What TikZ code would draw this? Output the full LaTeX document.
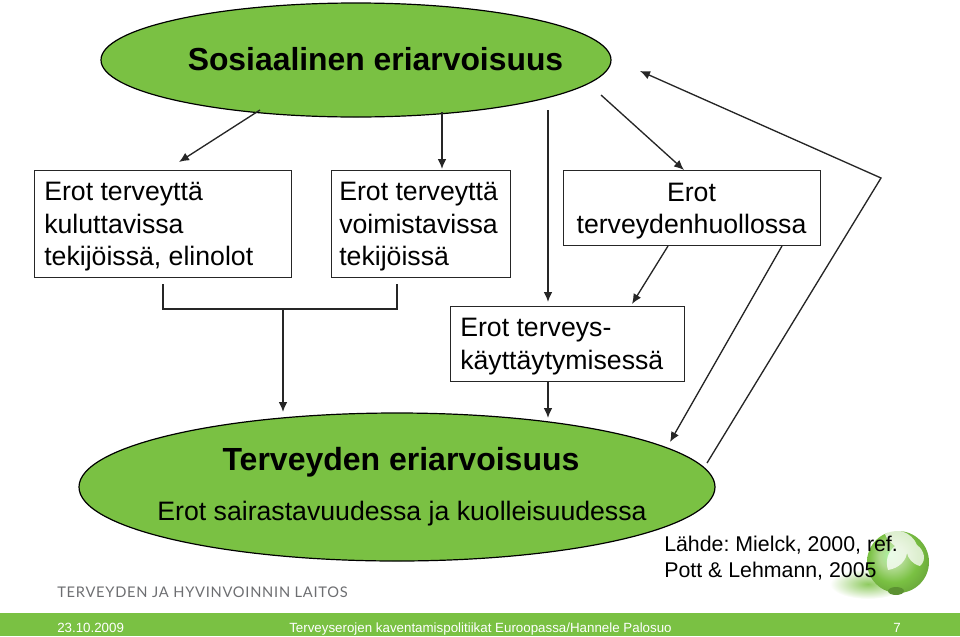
\documentclass[tikz,border=0pt]{standalone}
\usepackage{fontspec}
\setmainfont{Liberation Sans}
\newfontfamily\logofont[LetterSpace=5]{Lato}
\usetikzlibrary{calc,arrows,arrows.meta,shadings}
\definecolor{thlgreen}{HTML}{7AC143}
\definecolor{thlgray}{HTML}{6D6E71}
\pgfdeclareradialshading{ballshade}{\pgfpoint{-6bp}{6bp}}{%
  color(0bp)=(green!30!white!85!thlgreen);color(10bp)=(thlgreen!60!white);
  color(20bp)=(thlgreen);color(27bp)=(thlgreen!90!black);color(50bp)=(thlgreen!75!black)}
\tikzset{
  box/.style={draw=black!85,line width=0.7pt,inner sep=0pt},
  blob/.style={draw=black,fill=thlgreen,line width=0.9pt},
  lbl/.style={inner sep=0pt,font=\frenchspacing\fontsize{20}{24.4}\selectfont,align=left},
  arr/.style={-{Latex[length=7.5pt,width=6.5pt]},line width=1pt,black!85},
  foot/.style={inner sep=0pt,text=white,font=\fontsize{10}{12}\selectfont}
}
\begin{document}
\begin{tikzpicture}[x=0.75pt,y=-0.75pt]
        \useasboundingbox (0,0) rectangle (960,636);
        % footer and ball
        \fill[thlgreen] (0,613) rectangle (960,636);
        \shade[inner color=thlgreen!85,outer color=white] (868,584) ellipse (38 and 15);
        \shade[shading=ballshade] (898,562) circle (31);
        \fill[thlgreen!75!black] (896,591) ellipse (8 and 4);
        \fill[white,opacity=.75] (885,534) .. controls (895,526) and (912,532) .. (917,545) .. controls (924,550) and (927,560) .. (920,566) .. controls (912,564) and (908,558) .. (907,553) .. controls (906,560) and (900,568) .. (888,570) .. controls (885,560) and (888,552) .. (895,546) .. controls (890,542) and (886,538) .. (885,534);
        % ellipses
        \draw[blob] (356,60) ellipse (255 and 57);
        \draw[blob] (397,487) ellipse (318 and 74);
        \node[lbl,font=\bfseries\fontsize{23.9}{27}\selectfont] (top) at (375.5,59) {Sosiaalinen eriarvoisuus};
        \node[lbl,font=\bfseries\fontsize{24}{28}\selectfont] (bottomA) at (401,462) {Terveyden eriarvoisuus};
        \node[lbl] (bottomB) at (402,514) {Erot sairastavuudessa ja kuolleisuudessa};
        % boxes
        \draw[box] (34,170) rectangle (291,277);
        \draw[box] (331,170) rectangle (510,277);
        \draw[box] (563,170) rectangle (820,245);
        \draw[box] (450,306) rectangle (684,381);
        \node[lbl,anchor=north west] (kulut) at (44,182) {Erot terveyttä\\kuluttavissa\\tekijöissä, elinolot};
        \node[lbl,anchor=north west] (voim) at (339,182) {Erot terveyttä\\voimistavissa\\tekijöissä};
        \node[lbl,align=center] (huolto) at (691.5,211) {Erot\\terveydenhuollossa};
        \node[lbl,anchor=north west] (kaytt) at (460,318) {Erot terveys-\\käyttäytymisessä};
        % connectors
        \coordinate (a1) at (260,110); \coordinate (a2) at (179,162);
        \coordinate (b1) at (442,112); \coordinate (b2) at (442,169);
        \coordinate (c1) at (548,110); \coordinate (c2) at (548,302);
        \coordinate (d1) at (601,95); \coordinate (d2) at (684,170);
        \coordinate (e1) at (668,246); \coordinate (e2) at (632,304);
        \coordinate (f1) at (782,246); \coordinate (f2) at (670,442);
        \coordinate (g1) at (707,463); \coordinate (g2) at (881,178); \coordinate (g3) at (640,71);
        \coordinate (h1) at (163,284); \coordinate (h2) at (163,309);
        \coordinate (h3) at (397,309); \coordinate (h4) at (397,284);
        \coordinate (i1) at (283,309); \coordinate (i2) at (283,412);
        \coordinate (j1) at (548,382); \coordinate (j2) at (548,418);
        \draw[arr] (a1) -- (a2);
        \draw[arr] (b1) -- (b2);
        \draw[arr] (c1) -- (c2);
        \draw[arr] (d1) -- (d2);
        \draw[arr] (e1) -- (e2);
        \draw[arr] (f1) -- (f2);
        \draw[arr] (g1) -- (g2) -- (g3);
        \draw[line width=0.8pt,black!85] (h1) -- (h2) -- (h3) -- (h4);
        \draw[arr] (i1) -- (i2);
        \draw[arr] (j1) -- (j2);
        % source and footer text
        \node[lbl,anchor=north west,font=\frenchspacing\fontsize{16}{19.5}\selectfont] (lahde) at (664,536) {Lähde: Mielck, 2000, ref.\\Pott \& Lehmann, 2005};
        \node[inner sep=0pt,text=thlgray,font=\logofont\fontsize{11}{13}\selectfont] (thl) at (202.5,592) {TERVEYDEN JA HYVINVOINNIN LAITOS};
        \node[foot,anchor=west] (date) at (57,628) {23.10.2009};
        \node[foot,anchor=west] (title) at (289,629) {Terveyserojen kaventamispolitiikat Euroopassa/Hannele Palosuo};
        \node[foot] (page) at (897,628) {7};
      \end{tikzpicture}
\end{document}
